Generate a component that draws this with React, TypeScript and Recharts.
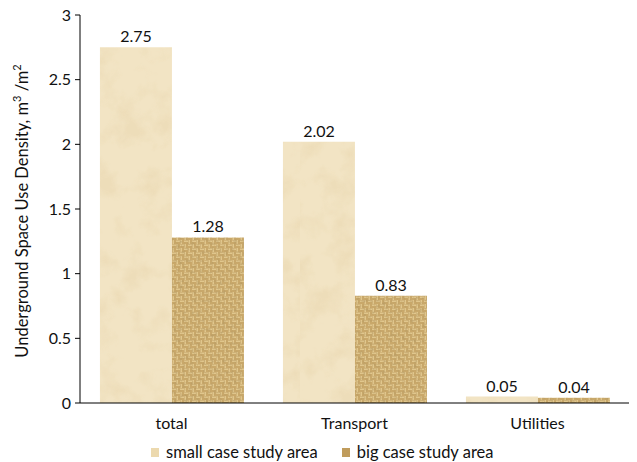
import { BarChart, Bar, XAxis, YAxis, LabelList } from "recharts";

const categories = ["total", "Transport", "Utilities"];
const smallArea = [2.75, 2.02, 0.05];
const bigArea = [1.28, 0.83, 0.04];
const yTicks = [0, 0.5, 1, 1.5, 2, 2.5, 3];

const FONT = "Lato, 'Open Sans', sans-serif";

const data = categories.map((name, i) => ({
  name,
  small: smallArea[i],
  big: bigArea[i],
}));

const AxisTitle = () => (
  <text
    transform="translate(28, 211) rotate(-90)"
    textAnchor="middle"
    fontFamily={FONT}
    fontSize={16.5}
    fill="#111"
  >
    Underground Space Use Density, m
    <tspan dy={-7} fontSize={11}>3</tspan>
    <tspan dy={7}> /m</tspan>
    <tspan dy={-7} fontSize={11}>2</tspan>
  </text>
);

const legendItems = [
  { label: "small case study area", swatch: "#ecd9ae" },
  { label: "big case study area", swatch: "#c09c5c" },
];

export default function App() {
  return (
    <div style={{ position: "absolute", left: 0, top: 0, width: 637, height: 462, background: "#fff" }}>
      <BarChart
        width={637}
        height={462}
        data={data}
        margin={{ top: 15, right: 8, left: 0, bottom: 29 }}
        barCategoryGap="10.9%"
        barGap={0}
      >
        <defs>
          {/* mottled paper texture */}
          <filter id="grain" x="0" y="0" width="100%" height="100%" filterUnits="userSpaceOnUse">
            <feTurbulence type="fractalNoise" baseFrequency="0.035" numOctaves={4} seed={7} />
            <feColorMatrix
              type="matrix"
              values="0 0 0 0 0.84  0 0 0 0 0.71  0 0 0 0 0.47  0 0 0 3.2 -1.45"
            />
          </filter>
          <pattern id="parchment" patternUnits="userSpaceOnUse" width={300} height={420}>
            <rect width={300} height={420} fill="#f2e4c4" />
            <rect x={0} y={0} width={300} height={420} fill="#fff" filter="url(#grain)" opacity={0.8} />
          </pattern>
          {/* woven sacking */}
          <filter id="burlapNoise" x="0" y="0" width="100%" height="100%" filterUnits="userSpaceOnUse">
            <feTurbulence type="fractalNoise" baseFrequency="0.35" numOctaves={2} seed={3} />
            <feColorMatrix
              type="matrix"
              values="0 0 0 0 0.42  0 0 0 0 0.30  0 0 0 0 0.12  0 0 0 2.4 -1.1"
            />
          </filter>
          <pattern id="weave" patternUnits="userSpaceOnUse" width={8} height={8}>
            <rect width={8} height={8} fill="#a68143" />
            <rect x={0} y={0.4} width={4} height={1.4} fill="#f0d89f" />
            <rect x={0} y={2.4} width={4} height={1.2} fill="#e0c283" />
            <rect x={4.4} y={0} width={1.4} height={4} fill="#f0d89f" />
            <rect x={6.4} y={0} width={1.2} height={4} fill="#e0c283" />
            <rect x={4} y={4.4} width={4} height={1.4} fill="#f0d89f" />
            <rect x={4} y={6.4} width={4} height={1.2} fill="#e0c283" />
            <rect x={0.4} y={4} width={1.4} height={4} fill="#f0d89f" />
            <rect x={2.4} y={4} width={1.2} height={4} fill="#e0c283" />
          </pattern>
          <pattern id="burlap" patternUnits="userSpaceOnUse" width={300} height={420}>
            <rect width={300} height={420} fill="url(#weave)" />
            <rect x={0} y={0} width={300} height={420} fill="#fff" filter="url(#burlapNoise)" opacity={0.5} />
          </pattern>
        </defs>
        <XAxis
          dataKey="name"
          tickLine={false}
          axisLine={{ stroke: "#000", strokeWidth: 1 }}
          tick={{ fontSize: 16, fill: "#111", fontFamily: FONT }}
          tickMargin={9}
          height={30}
        />
        <YAxis
          domain={[0, 3]}
          ticks={yTicks}
          width={80}
          axisLine={{ stroke: "#000", strokeWidth: 1 }}
          tickLine={{ stroke: "#000" }}
          tickSize={5}
          tick={{ fontSize: 16, fill: "#111", fontFamily: FONT }}
          tickMargin={4}
          interval={0}
        />
        <Bar dataKey="small" fill="url(#parchment)" isAnimationActive={false}>
          <LabelList dataKey="small" position="top" offset={5} fill="#111" fontSize={16} fontFamily={FONT} />
        </Bar>
        <Bar dataKey="big" fill="url(#burlap)" isAnimationActive={false}>
          <LabelList dataKey="big" position="top" offset={5} fill="#111" fontSize={16} fontFamily={FONT} />
        </Bar>
        <AxisTitle />
      </BarChart>
      <div
        style={{
          position: "absolute",
          top: 442,
          left: 151,
          display: "flex",
          gap: 24,
          fontFamily: FONT,
          fontSize: 16.5,
          lineHeight: "20px",
          color: "#111",
        }}
      >
        {legendItems.map((item) => (
          <div key={item.label} style={{ display: "flex", alignItems: "center", gap: 7 }}>
            <svg width={8} height={9}>
              <rect width={8} height={9} fill={item.swatch} />
            </svg>
            <span>{item.label}</span>
          </div>
        ))}
      </div>
    </div>
  );
}
